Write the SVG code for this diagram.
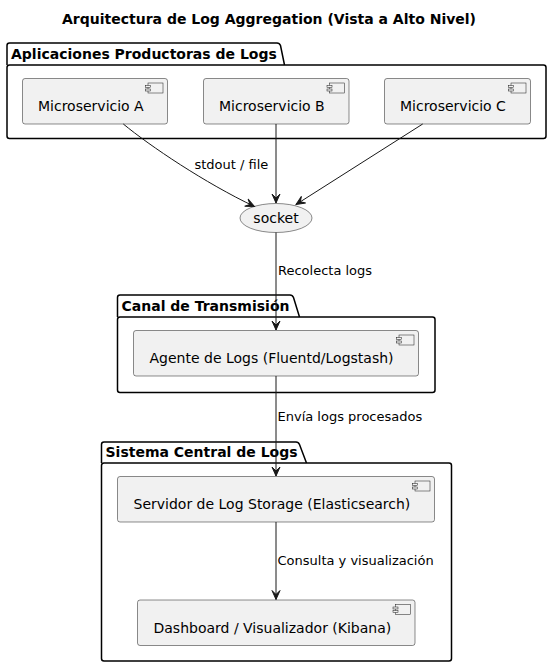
<svg xmlns="http://www.w3.org/2000/svg" width="552" height="667" viewBox="0 0 552 667">
<style>
  text { font-family: "DejaVu Sans", "Liberation Sans", sans-serif; fill: #000; }
  .title { font-size: 14px; font-weight: bold; }
  .pkgname { font-size: 14px; font-weight: bold; }
  .pkg { fill: none; stroke: #000; stroke-width: 1.5; }
  .comp { fill: #F1F1F1; stroke: #181818; stroke-width: 0.5; }
  .ctext { font-size: 14px; }
  .edge { fill: none; stroke: #181818; stroke-width: 1; }
  .elabel { font-size: 13px; }
</style>
<defs>
  <marker id="arr" markerUnits="userSpaceOnUse" markerWidth="12" markerHeight="12" viewBox="-10 -6 12 12" refX="0" refY="0" orient="auto">
    <path d="M0,0 L-9,-4 L-5,0 L-9,4 Z" fill="#181818" stroke="#181818" stroke-width="1"/>
  </marker>
  <g id="icon">
    <rect x="-19.5" y="4.5" width="15" height="10" fill="#F1F1F1" stroke="#181818" stroke-width="0.5"/>
    <rect x="-22" y="7" width="5" height="2" fill="#F1F1F1" stroke="#181818" stroke-width="0.5"/>
    <rect x="-22" y="10.5" width="5" height="2" fill="#F1F1F1" stroke="#181818" stroke-width="0.5"/>
  </g>
</defs>
<rect width="552" height="667" fill="#FFFFFF"/>
<text class="title" x="269" y="24" text-anchor="middle">Arquitectura de Log Aggregation (Vista a Alto Nivel)</text>

<g id="pkg_apps">
  <path class="pkg" d="M7,65 L7,45.5 Q7,43 9.5,43 L277,43 Q279.5,43 280.5,45.5 L284.5,65"/>
  <rect class="pkg" x="7" y="65" width="539" height="73.5" rx="2.5"/>
  <text class="pkgname" x="11" y="58.5">Aplicaciones Productoras de Logs</text>
</g>
<g id="pkg_canal">
  <path class="pkg" d="M117.5,317 L117.5,297.5 Q117.5,295 120,295 L290,295 Q292.5,295 293.5,297.5 L299.5,317"/>
  <rect class="pkg" x="117.5" y="317" width="317.5" height="75.5" rx="2.5"/>
  <text class="pkgname" x="121.5" y="310.5">Canal de Transmisión</text>
</g>
<g id="pkg_central">
  <path class="pkg" d="M101.5,463 L101.5,444.5 Q101.5,442 104,442 L296,442 Q298.5,442 299.5,444.5 L306.5,463"/>
  <rect class="pkg" x="101.5" y="463" width="350" height="198" rx="2.5"/>
  <text class="pkgname" x="105.5" y="457">Sistema Central de Logs</text>
</g>

<g id="msA">
  <rect class="comp" x="22.5" y="78.5" width="145" height="45.5" rx="2.5"/>
  <use href="#icon" x="167.5" y="78.5"/>
  <text class="ctext" x="38" y="111">Microservicio A</text>
</g>
<g id="msB">
  <rect class="comp" x="203.5" y="78.5" width="145.5" height="45.5" rx="2.5"/>
  <use href="#icon" x="349" y="78.5"/>
  <text class="ctext" x="219" y="111">Microservicio B</text>
</g>
<g id="msC">
  <rect class="comp" x="384.5" y="78.5" width="146" height="45.5" rx="2.5"/>
  <use href="#icon" x="530.5" y="78.5"/>
  <text class="ctext" x="400" y="111">Microservicio C</text>
</g>
<g id="socket">
  <ellipse class="comp" cx="276" cy="218" rx="36" ry="14.5"/>
  <text class="ctext" x="276" y="223" text-anchor="middle">socket</text>
</g>
<g id="agente">
  <rect class="comp" x="133.5" y="330.5" width="285" height="45.5" rx="2.5"/>
  <use href="#icon" x="418.5" y="330.5"/>
  <text class="ctext" x="149.5" y="363">Agente de Logs (Fluentd/Logstash)</text>
</g>
<g id="elastic">
  <rect class="comp" x="117.5" y="476.5" width="317" height="45.5" rx="2.5"/>
  <use href="#icon" x="434.5" y="476.5"/>
  <text class="ctext" x="133.5" y="509">Servidor de Log Storage (Elasticsearch)</text>
</g>
<g id="kibana">
  <rect class="comp" x="137.5" y="600" width="277.5" height="45.5" rx="2.5"/>
  <use href="#icon" x="415" y="600"/>
  <text class="ctext" x="153.5" y="632.5">Dashboard / Visualizador (Kibana)</text>
</g>

<g id="edges">
  <path class="edge" d="M123.3,124 C150,146 205,183 254.5,206.5" marker-end="url(#arr)"/>
  <path class="edge" d="M276,124 L276,203" marker-end="url(#arr)"/>
  <path class="edge" d="M422.7,124 L296,204.5" marker-end="url(#arr)"/>
  <path class="edge" d="M276,232.5 L276,330" marker-end="url(#arr)"/>
  <path class="edge" d="M276,376 L276,476" marker-end="url(#arr)"/>
  <path class="edge" d="M276,522 L276,599.5" marker-end="url(#arr)"/>
  <text class="elabel" x="194.5" y="169">stdout / file</text>
  <text class="elabel" x="278" y="275">Recolecta logs</text>
  <text class="elabel" x="277.5" y="421">Envía logs procesados</text>
  <text class="elabel" x="277.5" y="565">Consulta y visualización</text>
</g>
</svg>
